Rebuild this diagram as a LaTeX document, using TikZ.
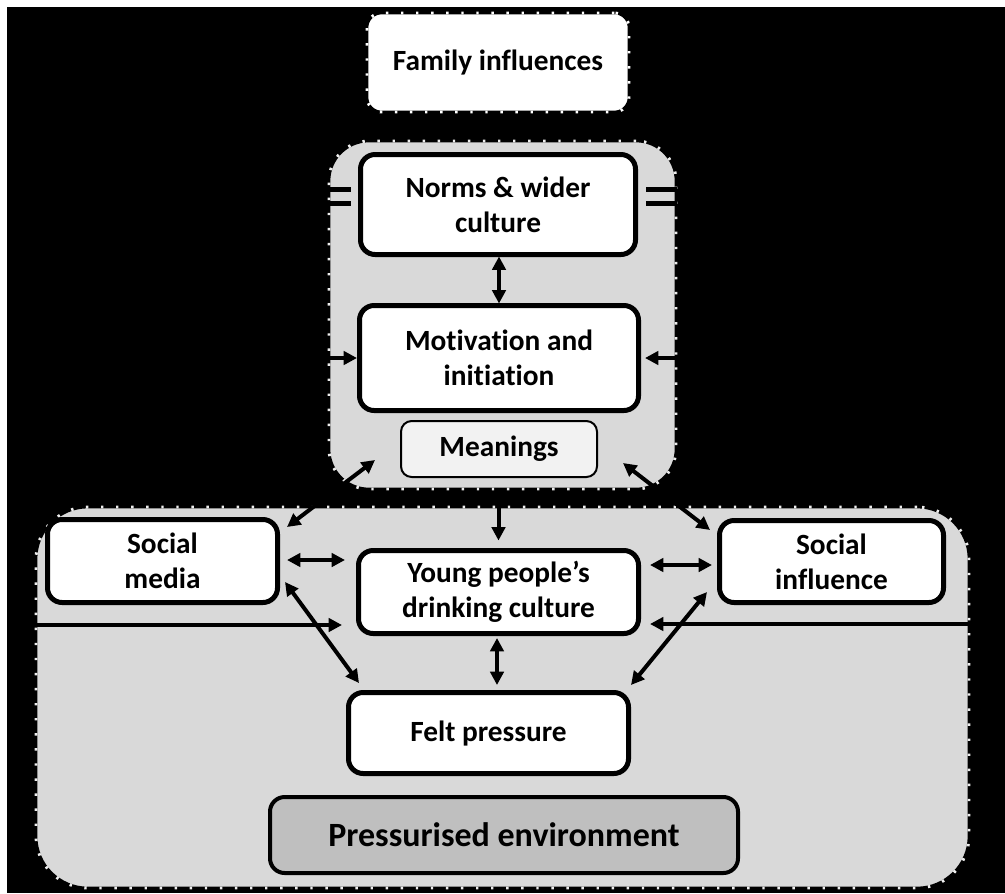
\documentclass[tikz,border=0pt]{standalone}
\usepackage{fontspec}
\setmainfont{Carlito}[Ligatures=NoCommon]
\usetikzlibrary{arrows.meta,calc}
\definecolor{cgray}{HTML}{D9D9D9}
\definecolor{mgray}{HTML}{F2F2F2}
\definecolor{pgray}{HTML}{BFBFBF}
\definecolor{tick}{HTML}{EDEDED}
\begin{document}
\begin{tikzpicture}[x=0.75pt,y=-0.75pt,
  lbl/.style={font=\fontsize{22}{26.5}\selectfont\bfseries, align=center},
  box/.style={lbl, draw=black, fill=white, line width=3.75pt, rounded corners=11pt, inner sep=0pt, outer sep=0pt},
  cont/.style={fill=cgray, draw=black, line width=2pt, inner sep=0pt, outer sep=0pt, postaction={draw=tick, line width=2.2pt, dash pattern=on 1.8pt off 9.5pt}},
  arr/.style={line width=3pt, {Triangle[length=10pt,width=10pt]}-{Triangle[length=10pt,width=10pt]}},
  arrone/.style={line width=3pt, -{Triangle[length=10pt,width=10pt]}},
  bar/.style={line width=3.75pt},
]
\useasboundingbox (0,0) rectangle (1005,893);
\fill[white] (0,0) rectangle (1005,893);
\fill[black] (7,7) rectangle (1005,893);

% family influences
\node[lbl, fill=white, draw=black, line width=2pt, rounded corners=11pt, inner sep=0pt, outer sep=0pt,
      minimum width=196.5pt, minimum height=74.25pt,
      postaction={draw=white, line width=2.2pt, dash pattern=on 1.8pt off 9.5pt}]
      (fam) at (498,62.5) {Family influences};

% containers
\node[cont, rounded corners=30pt, minimum width=260.25pt, minimum height=261pt] (upper) at (502.5,315) {};
\node[cont, rounded corners=39pt, minimum width=699.75pt, minimum height=285.75pt] (lower) at (502.5,697.5) {};

% boxes
\node[box, minimum width=206.25pt, minimum height=75pt] (norms) at (498,204.5) {Norms \& wider\\culture};
\node[box, minimum width=209.25pt, minimum height=78.75pt] (motiv) at (499,358) {Motivation and\\initiation};
\node[box, fill=mgray, line width=1.5pt, rounded corners=8pt, minimum width=147pt, minimum height=42pt] (mean) at (499,449) {Meanings};
\node[box, minimum width=172.5pt, minimum height=62.25pt] (smedia) at (162.5,561) {Social\\media};
\node[box, minimum width=210pt, minimum height=62.25pt] (young) at (498.5,592) {Young people’s\\drinking culture};
\node[box, minimum width=168pt, minimum height=61.5pt] (sinfl) at (831.5,561.5) {Social\\influence};
\node[box, minimum width=210pt, minimum height=60.75pt] (felt) at (488.5,733) {Felt pressure};
\node[box, fill=pgray, line width=3pt, font=\fontsize{25.5}{30}\selectfont\bfseries, minimum width=351pt, minimum height=57pt] (press) at (504,835) {Pressurised environment};

% free ends
\coordinate (mL) at (375,460);
\coordinate (mR) at (623,463);
\coordinate (inL) at (35,625);
\coordinate (inR) at (970,624);
\coordinate (sideL) at (328,358);
\coordinate (sideR) at (677,358);

% connectors
\draw[arr] ($(norms.south)+(1,2)$) -- ($(motiv.north)+(0,-2)$);
\draw[arrone] ($(upper.south)+(-4,0)$) -- ($(young.north)+(0,-10)$);
\draw[arr] (mL) -- ($(smedia.north east)+(9.5,7.5)$);
\draw[arr] (mR) -- ($(sinfl.north west)+(-9.5,9.5)$);
\draw[arr] ($(smedia.east)+(9.5,-1)$) -- ($(young.west)+(-13.5,-32)$);
\draw[arr] ($(young.east)+(11.5,-27)$) -- ($(sinfl.west)+(-7.5,3.5)$);
\draw[arr] ($(smedia.east)+(7.5,21)$) -- ($(felt.north west)+(10.5,-9.5)$);
\draw[arr] ($(sinfl.west)+(-12.5,30.5)$) -- ($(felt.north east)+(2.5,-7.5)$);
\draw[arr] ($(young.south)+(-1.5,4.5)$) -- ($(felt.north)+(8.5,-7.5)$);
\draw[arrone] (inL) -- ($(young.west)+(-16.5,33)$);
\draw[arrone] (inR) -- ($(young.east)+(11.5,32)$);
\draw[arrone] (sideL) -- ($(motiv.west)+(-2.5,0)$);
\draw[arrone] (sideR) -- ($(motiv.east)+(6.5,0)$);

% double bars at the container edges
\coordinate (bL1) at (327,189); \coordinate (bL2) at (327,203);
\coordinate (bR1) at (677,189); \coordinate (bR2) at (677,203);
\draw[bar] (bL1) -- ($(norms.west |- bL1)+(-10,0)$);
\draw[bar] (bL2) -- ($(norms.west |- bL2)+(-10,0)$);
\draw[bar] (bR1) -- ($(norms.east |- bR1)+(10,0)$);
\draw[bar] (bR2) -- ($(norms.east |- bR2)+(10,0)$);
\end{tikzpicture}
\end{document}
